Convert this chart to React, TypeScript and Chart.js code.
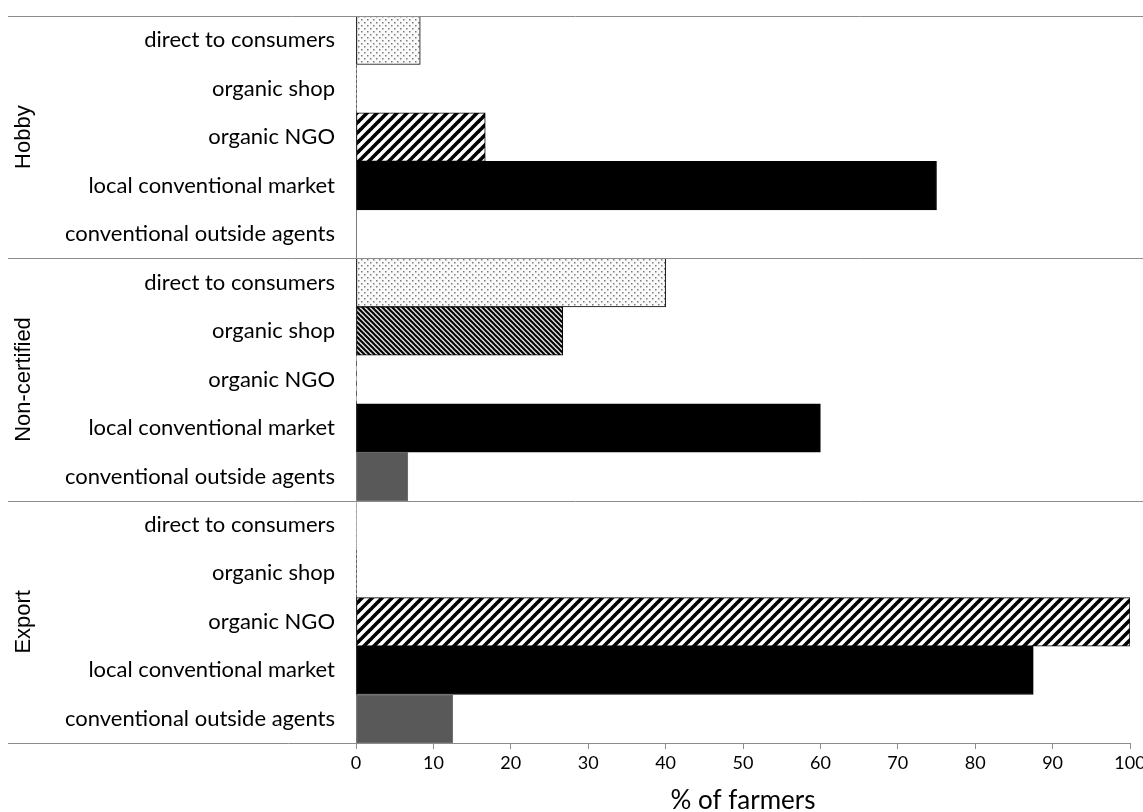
import React, { useEffect, useRef } from 'react';
import { Chart, registerables } from 'chart.js';

Chart.register(...registerables);

const groups = ['Hobby', 'Non-certified', 'Export'];
const channels = [
  'direct to consumers',
  'organic shop',
  'organic NGO',
  'local conventional market',
  'conventional outside agents',
];
const hobby = [8.3, 0, 16.7, 75, 0];
const nonCertified = [40, 26.7, 0, 60, 6.7];
const exportValues = [0, 0, 100, 87.5, 12.5];
const xTickMax = 100;
const xTickStep = 10;
const axisTitle = '% of farmers';

function makePattern(w: number, h: number, draw: (g: CanvasRenderingContext2D) => void) {
  const c = document.createElement('canvas');
  c.width = w;
  c.height = h;
  const g = c.getContext('2d')!;
  draw(g);
  return g.createPattern(c, 'repeat')!;
}

export default function App() {
  const ref = useRef<HTMLCanvasElement>(null);

  useEffect(() => {
    document.body.style.margin = '0';
    const labels = groups.flatMap(() => channels);
    const values = [...hobby, ...nonCertified, ...exportValues];

    const dots = makePattern(6, 6, (g) => {
      g.fillStyle = '#fafafa';
      g.fillRect(0, 0, 6, 6);
      g.fillStyle = '#7a7a7a';
      g.fillRect(1, 1, 1.5, 1.5);
      g.fillRect(4, 4, 1.5, 1.5);
    });
    const backHatch = makePattern(5, 5, (g) => {
      g.fillStyle = '#d8d8d8';
      g.fillRect(0, 0, 5, 5);
      g.strokeStyle = '#000';
      g.lineWidth = 2;
      for (const o of [-5, 0, 5]) {
        g.beginPath();
        g.moveTo(o - 3, -3);
        g.lineTo(o + 8, 8);
        g.stroke();
      }
    });
    const fwdHatch = makePattern(10, 10, (g) => {
      g.fillStyle = '#fff';
      g.fillRect(0, 0, 10, 10);
      g.strokeStyle = '#000';
      g.lineWidth = 3.6;
      for (const o of [-10, 0, 10]) {
        g.beginPath();
        g.moveTo(o - 3, 13);
        g.lineTo(o + 13, -3);
        g.stroke();
      }
    });
    const fills = [dots, backHatch, fwdHatch, '#000000', '#595959'];
    const borders = ['#000', '#000', '#000', '#000', '#707070'];

    const groupPlugin = {
      id: 'groupLines',
      afterDraw(chart: any) {
        const { ctx, chartArea, scales } = chart;
        const y = scales.y;
        const row = (y.bottom - y.top) / labels.length;
        ctx.save();
        ctx.strokeStyle = '#8c8c8c';
        ctx.lineWidth = 1;
        for (let g = 0; g <= groups.length; g++) {
          const py = Math.round(y.getPixelForValue(g * channels.length) - row / 2) + 0.5;
          const right = g === groups.length ? chartArea.right : chart.width;
          ctx.beginPath();
          ctx.moveTo(8, py);
          ctx.lineTo(right, py);
          ctx.stroke();
        }
        ctx.fillStyle = '#000';
        ctx.font = '22px "Liberation Sans"';
        ctx.textAlign = 'center';
        ctx.textBaseline = 'middle';
        groups.forEach((name, g) => {
          const top = y.getPixelForValue(g * channels.length) - row / 2;
          const bot = y.getPixelForValue((g + 1) * channels.length - 1) + row / 2;
          ctx.save();
          ctx.translate(24, (top + bot) / 2);
          ctx.rotate(-Math.PI / 2);
          ctx.fillText(name, 0, 0);
          ctx.restore();
        });
        ctx.restore();
      },
    };

    const chart = new Chart(ref.current!, {
      type: 'bar',
      data: {
        labels,
        datasets: [
          {
            data: values,
            backgroundColor: labels.map((_, i) => fills[i % channels.length]) as any,
            borderColor: labels.map((_, i) => borders[i % channels.length]),
            borderWidth: (c: any) => (values[c.dataIndex] > 0 ? 1 : 0),
            borderSkipped: false,
            barPercentage: 1,
            categoryPercentage: 1,
          },
        ],
      },
      options: {
        indexAxis: 'y',
        animation: false,
        responsive: false,
        layout: { padding: { top: 16, right: 13, left: 0, bottom: 0 } },
        plugins: { legend: { display: false }, tooltip: { enabled: false } },
        scales: {
          x: {
            min: 0,
            max: xTickMax,
            ticks: { stepSize: xTickStep, color: '#000', font: { family: 'Lato', size: 18 }, padding: 3 },
            grid: { drawOnChartArea: false, drawTicks: true, tickLength: 6, color: '#8c8c8c' },
            border: { color: '#8c8c8c' },
            title: {
              display: true,
              text: axisTitle,
              color: '#000',
              font: { family: 'Lato', size: 26 },
              padding: { top: 4, bottom: -4 },
            },
            afterFit: (s: any) => {
              s.height = 69;
              s.paddingLeft = 0;
              s.paddingRight = 0;
            },
          },
          y: {
            ticks: { color: '#000', font: { family: 'Lato', size: 22 }, padding: 21, autoSkip: false },
            grid: { display: false, drawTicks: false },
            border: { color: '#8c8c8c' },
            afterFit: (s: any) => {
              s.width = 356;
              s.paddingTop = 0;
              s.paddingBottom = 0;
            },
          },
        },
      },
      plugins: [groupPlugin],
    });
    return () => chart.destroy();
  }, []);

  return (
    <div style={{ width: 1143, height: 812 }}>
      <canvas ref={ref} width={1143} height={812} style={{ display: 'block' }} />
    </div>
  );
}
